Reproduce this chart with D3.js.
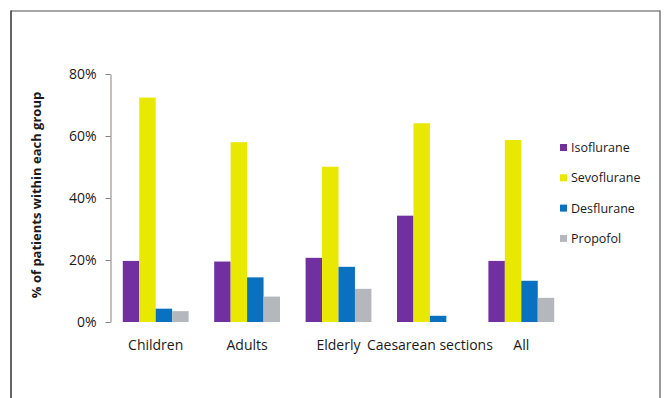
<!DOCTYPE html>
<html><head><meta charset="utf-8">
<script src="https://cdn.jsdelivr.net/npm/d3@7"></script>
<style>body{margin:0;background:#fff}svg{display:block}</style>
</head><body>
<svg id="c" width="667" height="398"></svg>
<script>
const categories = ["Children","Adults","Elderly","Caesarean sections","All"];
const seriesNames = ["Isoflurane","Sevoflurane","Desflurane","Propofol"];
const isoflurane = [19.7, 19.5, 20.7, 34.3, 19.7];
const sevoflurane = [72.4, 58.0, 50.1, 64.1, 58.7];
const desflurane = [4.3, 14.4, 17.8, 2.0, 13.3];
const propofol = [3.5, 8.2, 10.7, 0, 7.8];
const yTicks = [0, 20, 40, 60, 80];
const colors = ["#7030a0", "#e9e800", "#0a70c0", "#b4b8bc"];

const values = [isoflurane, sevoflurane, desflurane, propofol];
const svg = d3.select("#c");
const font = "'Open Sans', 'Noto Sans', sans-serif";

// frame
svg.append("line").attr("x1",11).attr("x2",660).attr("y1",11).attr("y2",11).attr("stroke","#888").attr("stroke-width",1.5);
svg.append("line").attr("x1",11).attr("x2",11).attr("y1",10.5).attr("y2",398).attr("stroke","#333").attr("stroke-width",1.5);
svg.append("line").attr("x1",660).attr("x2",660).attr("y1",10.5).attr("y2",398).attr("stroke","#777").attr("stroke-width",1.5);

const x0 = d3.scaleBand().domain(categories).range([110, 567]).paddingInner(0.28).paddingOuter(0.14);
const x1 = d3.scaleBand().domain(seriesNames).range([0, x0.bandwidth()]);
const y = d3.scaleLinear().domain([0, 80]).range([322, 74]);

// y axis
const yAxis = d3.axisLeft(y).tickValues(yTicks).tickFormat(d => d + "%").tickSize(5).tickSizeOuter(0);
const ga = svg.append("g").attr("transform","translate(110.5,0)").call(yAxis);
ga.select(".domain").attr("stroke","#8a7f7a");
ga.selectAll(".tick line").attr("stroke","#8a7f7a");
ga.selectAll(".tick text").attr("font-family",font).attr("font-size",14).attr("fill","#1a1a1a").attr("x",-14);

// bars
categories.forEach((cat, ci) => {
  seriesNames.forEach((s, si) => {
    const v = values[si][ci];
    svg.append("rect")
      .attr("x", x0(cat) + x1(s))
      .attr("y", y(v))
      .attr("width", x1.bandwidth())
      .attr("height", y(0) - y(v))
      .attr("fill", colors[si]);
  });
});

// x labels
svg.append("g").selectAll("text").data(categories).join("text")
  .attr("x", d => x0(d) + x0.bandwidth()/2)
  .attr("y", 350)
  .attr("text-anchor","middle")
  .attr("font-family",font).attr("font-size",14).attr("fill","#1a1a1a")
  .text(d => d);

// y title
svg.append("text")
  .attr("transform","translate(41,195) rotate(-90)")
  .attr("text-anchor","middle")
  .attr("font-family",font).attr("font-weight","bold").attr("font-size",13).attr("fill","#1a1a1a")
  .text("% of patients within each group");

// legend
const lg = svg.append("g");
seriesNames.forEach((s, i) => {
  const cy = 147.5 + i * 30.3;
  lg.append("rect").attr("x",560).attr("y",cy-3.5).attr("width",7).attr("height",7).attr("fill",colors[i]);
  lg.append("text").attr("x",571).attr("y",cy+4.5)
    .attr("font-family",font).attr("font-size",12.5).attr("fill","#1a1a1a").text(s);
});
</script>
</body></html>
